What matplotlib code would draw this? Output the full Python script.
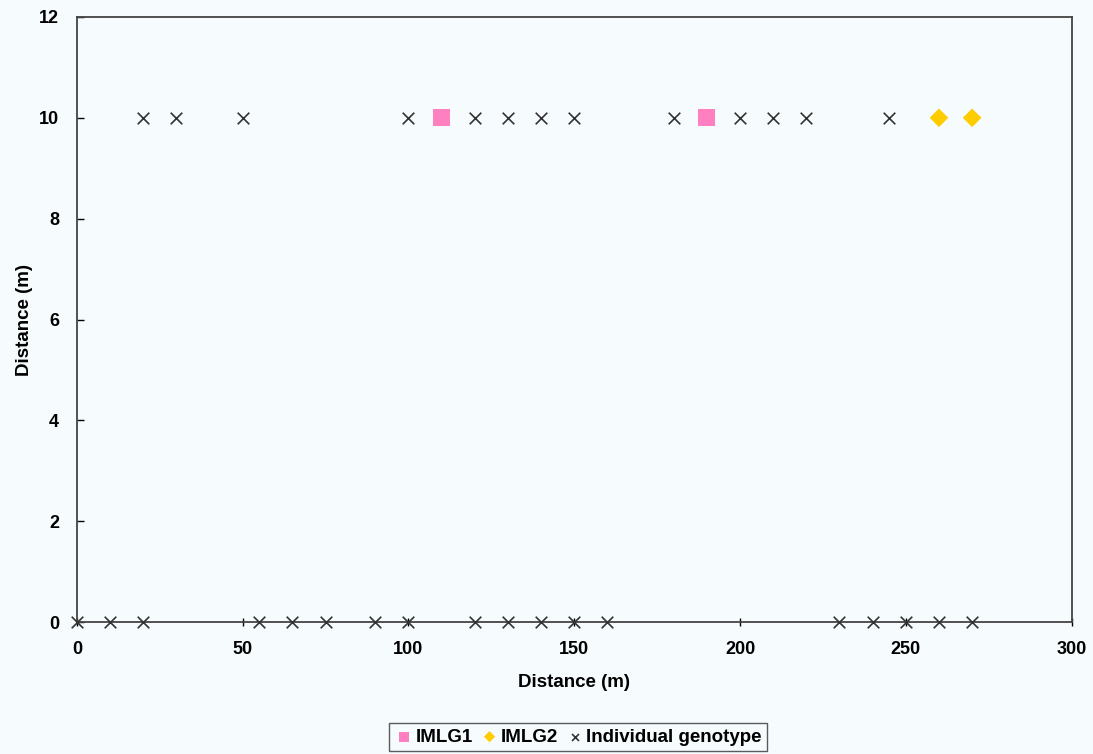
import matplotlib
matplotlib.use("Agg")
import matplotlib.pyplot as plt

plt.rcParams['font.family'] = ['Liberation Sans', 'DejaVu Sans']

# Individual genotypes along the two sampling transects (x in m, y in m)
geno_x = [0, 10, 20, 55, 65, 75, 90, 100, 120, 130, 140, 150, 160,
          230, 240, 250, 260, 270,
          20, 30, 50, 100, 120, 130, 140, 150, 180, 200, 210, 220, 245]
geno_y = [0] * 18 + [10] * 13

# Multilocus genotype clones
imlg1_x = [110, 190]
imlg1_y = [10, 10]
imlg2_x = [260, 270]
imlg2_y = [10, 10]

x_ticks = [0, 50, 100, 150, 200, 250, 300]
y_ticks = [0, 2, 4, 6, 8, 10, 12]

bg = '#f6fbfd'
fig = plt.figure(figsize=(10.93, 7.54), dpi=100, facecolor=bg)
ax = fig.add_axes([0.0704, 0.175, 0.910, 0.8025], facecolor=bg)

ax.scatter(imlg1_x, imlg1_y, marker='s', s=150, color='#ff80c0', edgecolors='none',
           label='IMLG1', zorder=3, clip_on=False)
ax.scatter(imlg2_x, imlg2_y, marker='D', s=90, color='#ffcc00', edgecolors='none',
           label='IMLG2', zorder=3, clip_on=False)
ax.scatter(geno_x, geno_y, marker='x', s=70, color='#333333', linewidths=1.2,
           label='Individual genotype', zorder=3, clip_on=False)

ax.set_xlim(0, 300)
ax.set_ylim(0, 12)
ax.set_xticks(x_ticks)
ax.set_yticks(y_ticks)
ax.tick_params(axis='x', direction='inout', length=6, width=1, labelsize=13, pad=11)
ax.tick_params(axis='y', direction='in', length=5, width=1, labelsize=13, pad=13)
for lbl in ax.get_xticklabels() + ax.get_yticklabels():
    lbl.set_fontweight('bold')

for sp in ax.spines.values():
    sp.set_color('#444444')
    sp.set_linewidth(1.3)

ax.set_xlabel('Distance (m)', fontsize=13.5, fontweight='bold', labelpad=11)
ax.set_ylabel('Distance (m)', fontsize=13.5, fontweight='bold', labelpad=4)

leg = fig.legend(loc='center', bbox_to_anchor=(0.529, 0.0225), ncol=3,
                 frameon=True, fancybox=False, edgecolor='#333333',
                 prop={'size': 13.5, 'weight': 'bold'}, handletextpad=0.1,
                 columnspacing=0.4, borderpad=0.3, handlelength=1.0,
                 markerscale=0.6)
leg.get_frame().set_linewidth(1.0)
leg.get_frame().set_facecolor(bg)

fig.savefig('out.png', dpi=100, facecolor=bg)
